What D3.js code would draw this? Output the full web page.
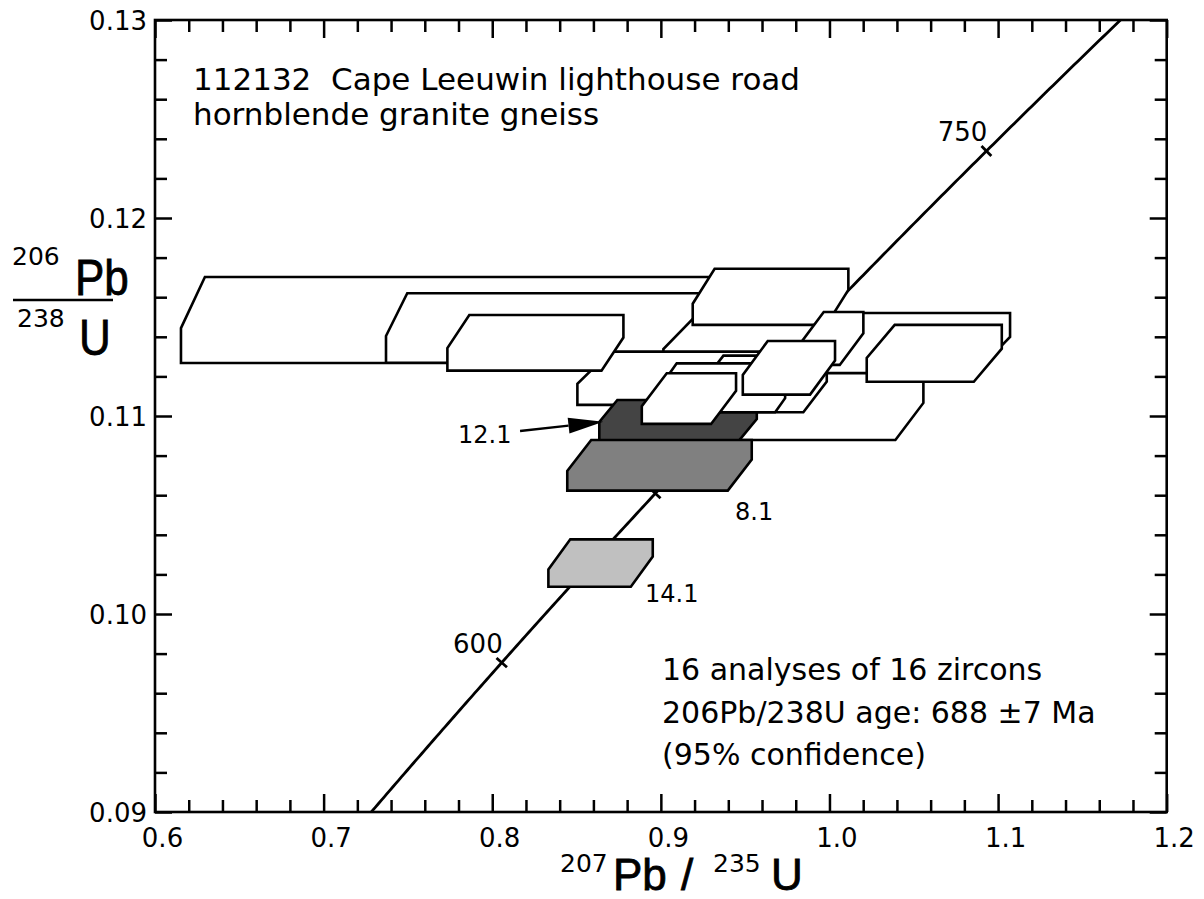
<!DOCTYPE html>
<html>
<head>
<meta charset="utf-8">
<script src="https://cdn.jsdelivr.net/npm/d3@7"></script>
<style>
  html, body { margin: 0; padding: 0; background: #fff; }
  svg { display: block; }
  text { font-family: "DejaVu Sans", sans-serif; fill: #000; white-space: pre; }
  .big { font-family: "Liberation Sans", Arial, sans-serif; }
</style>
</head>
<body>
<svg id="chart" width="1204" height="899"></svg>
<script>
// ---- axis ticks ----
const xMajorTicks = [0.6, 0.7, 0.8, 0.9, 1.0, 1.1, 1.2];
const yMajorTicks = [0.09, 0.10, 0.11, 0.12, 0.13];

// ---- concordia age marks (Ma) ----
const concordiaAges = [600, 650, 700, 750];

// ---- zircon analyses: 2-sigma error boxes, back to front ----
const spotLabels = ["", "", "", "", "", "", "", "", "", "12.1", "", "", "", "", "8.1", "14.1"];
// 207Pb/235U range
const spotX0 = [0.6154, 0.7370, 0.9015, 0.9189, 0.9826, 0.9232, 1.0221, 0.8505, 0.7734, 0.8635, 0.9232, 0.9035, 0.8887, 0.9486, 0.8445, 0.8333];
const spotX1 = [0.9826, 0.9766, 1.1071, 1.0112, 1.0201, 1.0557, 1.1022, 0.9648, 0.8778, 0.9569, 0.9984, 0.9737, 0.9446, 1.0033, 0.9539, 0.8952];
// 206Pb/238U range
const spotY0 = [0.11268, 0.11269, 0.11217, 0.11460, 0.11258, 0.10879, 0.11173, 0.11056, 0.11229, 0.10874, 0.11019, 0.11019, 0.10960, 0.11108, 0.10623, 0.10138];
const spotY1 = [0.11702, 0.11620, 0.11520, 0.11744, 0.11525, 0.11216, 0.11460, 0.11325, 0.11510, 0.11081, 0.11305, 0.11266, 0.11216, 0.11379, 0.10879, 0.10377];
// corner bevel from error correlation (x and y extents)
const spotCutX = [0.0142, 0.0126, 0.0208, 0.0130, 0.0140, 0.0166, 0.0166, 0.0196, 0.0130, 0.0107, 0.0139, 0.0059, 0.0148, 0.0148, 0.0142, 0.0130];
const spotCutY = [0.00258, 0.00216, 0.00182, 0.00177, 0.00160, 0.00187, 0.00167, 0.00162, 0.00167, 0.00111, 0.00155, 0.00071, 0.00167, 0.00172, 0.00157, 0.00152];

// label anchors for the named spots
const labelNames = ["12.1", "8.1", "14.1"];
const labelX = [0.7797, 0.9440, 0.8906];
const labelY = [0.10864, 0.10475, 0.10061];
// pointer from "12.1" to its box
const arrowFrom = [0.8165, 0.10924];
const arrowTo = [0.8659, 0.10971];

const titleLines = ["112132  Cape Leeuwin lighthouse road", "hornblende granite gneiss"];
const resultLines = ["16 analyses of 16 zircons", "206Pb/238U age: 688 \u00B17 Ma", "(95% confidence)"];

// decay constants (per year)
const L238 = 1.55125e-10, L235 = 9.8485e-10;

// ---- layout ----
const W = 1204, H = 899;
const margin = { top: 20, right: 37.3, bottom: 87, left: 155 };
const svg = d3.select("#chart");

const x = d3.scaleLinear().domain([0.6, 1.2]).range([margin.left, W - margin.right]);
const y = d3.scaleLinear().domain([0.09, 0.13]).range([H - margin.bottom, margin.top]);
const plotL = x.range()[0], plotR = x.range()[1], plotT = y.range()[1], plotB = y.range()[0];

const fillFor = { "12.1": "#444444", "8.1": "#808080", "14.1": "#c0c0c0" };

const xMinor = d3.range(0.62, 1.2, 0.02).filter(v => Math.abs(v * 10 - Math.round(v * 10)) > 1e-6);
const yMinor = d3.range(0.092, 0.13, 0.002).filter(v => Math.abs(v * 100 - Math.round(v * 100)) > 1e-6);

function styleAxis(g) {
  g.select(".domain").remove();
  g.selectAll(".tick line").attr("stroke", "#000").attr("stroke-width", 2.5);
}

// bottom
svg.append("g").attr("transform", `translate(0,${plotB})`)
  .call(d3.axisBottom(x).tickValues(xMinor).tickSize(-12).tickSizeOuter(0).tickFormat(""))
  .call(styleAxis);
const gxb = svg.append("g").attr("transform", `translate(0,${plotB})`)
  .call(d3.axisBottom(x).tickValues(xMajorTicks).tickSize(-18).tickSizeOuter(0).tickFormat(d3.format(".1f")))
  .call(styleAxis);
gxb.selectAll("text").attr("y", 35).attr("dy", null).attr("x", 7)
  .style("font-family", '"DejaVu Sans", sans-serif').style("font-size", "26px").attr("fill", "#000");

// top
svg.append("g").attr("transform", `translate(0,${plotT})`)
  .call(d3.axisTop(x).tickValues(xMinor).tickSize(-12).tickSizeOuter(0).tickFormat(""))
  .call(styleAxis);
svg.append("g").attr("transform", `translate(0,${plotT})`)
  .call(d3.axisTop(x).tickValues(xMajorTicks).tickSize(-18).tickSizeOuter(0).tickFormat(""))
  .call(styleAxis);

// left
svg.append("g").attr("transform", `translate(${plotL},0)`)
  .call(d3.axisLeft(y).tickValues(yMinor).tickSize(-12).tickSizeOuter(0).tickFormat(""))
  .call(styleAxis);
const gyl = svg.append("g").attr("transform", `translate(${plotL},0)`)
  .call(d3.axisLeft(y).tickValues(yMajorTicks).tickSize(-17).tickSizeOuter(0).tickPadding(8).tickFormat(d3.format(".2f")))
  .call(styleAxis);
gyl.selectAll("text").attr("dy", "0.36em")
  .style("font-family", '"DejaVu Sans", sans-serif').style("font-size", "26px").attr("fill", "#000");

// right
svg.append("g").attr("transform", `translate(${plotR},0)`)
  .call(d3.axisRight(y).tickValues(yMinor).tickSize(-12).tickSizeOuter(0).tickFormat(""))
  .call(styleAxis);
svg.append("g").attr("transform", `translate(${plotR},0)`)
  .call(d3.axisRight(y).tickValues(yMajorTicks).tickSize(-17).tickSizeOuter(0).tickFormat(""))
  .call(styleAxis);

// ---- concordia curve ----
svg.append("clipPath").attr("id", "plotClip")
  .append("rect").attr("x", plotL).attr("y", plotT).attr("width", plotR - plotL).attr("height", plotB - plotT);

const concX = t => Math.expm1(L235 * t * 1e6);
const concY = t => Math.expm1(L238 * t * 1e6);
const ages = d3.range(540, 800.1, 1);
const plot = svg.append("g").attr("clip-path", "url(#plotClip)");
plot.append("path")
  .attr("d", d3.line().x(t => x(concX(t))).y(t => y(concY(t)))(ages))
  .attr("fill", "none").attr("stroke", "#000").attr("stroke-width", 2.8);

concordiaAges.forEach(t => {
  const px = x(concX(t)), py = y(concY(t));
  const px2 = x(concX(t + 1)), py2 = y(concY(t + 1));
  const dx = px2 - px, dy = py2 - py, len = Math.hypot(dx, dy);
  const nx = -dy / len, ny = dx / len, h = 7;
  plot.append("line")
    .attr("x1", px - nx * h).attr("y1", py - ny * h)
    .attr("x2", px + nx * h).attr("y2", py + ny * h)
    .attr("stroke", "#000").attr("stroke-width", 2.8);
  plot.append("text").attr("x", px + 1).attr("y", py - 10)
    .attr("text-anchor", "end").style("font-size", "26px").text(t);
});

// ---- error boxes ----
const spots = spotLabels.map((label, i) => ({
  label, x0: spotX0[i], x1: spotX1[i], y0: spotY0[i], y1: spotY1[i], cx: spotCutX[i], cy: spotCutY[i]
}));
svg.append("g").selectAll("path").data(spots).join("path")
  .attr("d", s => d3.line()([
    [s.x0, s.y0], [s.x0, s.y1 - s.cy], [s.x0 + s.cx, s.y1],
    [s.x1, s.y1], [s.x1, s.y0 + s.cy], [s.x1 - s.cx, s.y0]
  ].map(p => [x(p[0]), y(p[1])])) + "Z")
  .attr("fill", s => fillFor[s.label] || "#fff")
  .attr("stroke", "#000").attr("stroke-width", 2.6).attr("stroke-linejoin", "miter");

// spot labels
labelNames.forEach((n, i) => {
  svg.append("text").attr("x", x(labelX[i])).attr("y", y(labelY[i]))
    .style("font-size", "24px").text(n);
});

// arrow to 12.1
{
  const ax0 = x(arrowFrom[0]), ay0 = y(arrowFrom[1]);
  const ax1 = x(arrowTo[0]), ay1 = y(arrowTo[1]);
  const dx = ax1 - ax0, dy = ay1 - ay0, len = Math.hypot(dx, dy);
  const ux = dx / len, uy = dy / len, headL = 35, headW = 8;
  const bx = ax1 - ux * headL, by = ay1 - uy * headL;
  svg.append("line").attr("x1", ax0).attr("y1", ay0).attr("x2", bx).attr("y2", by)
    .attr("stroke", "#000").attr("stroke-width", 2.5);
  svg.append("path")
    .attr("d", d3.line()([[ax1, ay1], [bx - uy * headW, by + ux * headW], [bx + uy * headW, by - ux * headW]]) + "Z")
    .attr("fill", "#000");
}

// ---- frame ----
svg.append("rect").attr("x", plotL).attr("y", plotT).attr("width", plotR - plotL).attr("height", plotB - plotT)
  .attr("fill", "none").attr("stroke", "#000").attr("stroke-width", 2.6);

// ---- annotations ----
titleLines.forEach((s, i) => {
  svg.append("text").attr("x", 193).attr("y", 90 + i * 35)
    .attr("xml:space", "preserve").style("font-size", "31px").text(s);
});
resultLines.forEach((s, i) => {
  svg.append("text").attr("x", 662).attr("y", 680 + i * 42.5).style("font-size", "30px").text(s);
});

// ---- axis titles ----
function bigText(tx, ty, s, size, sx) {
  svg.append("text").attr("class", "big")
    .attr("transform", `translate(${tx},${ty}) scale(${sx || 0.88},1)`)
    .style("font-size", (size || 50) + "px").style("stroke", "#000").style("stroke-width", "0.8px").text(s);
}
function supText(tx, ty, s) {
  svg.append("text").attr("x", tx).attr("y", ty).style("font-size", "25px").text(s);
}
// y: 206Pb over 238U
supText(12, 265, "206");
bigText(75, 295, "Pb");
svg.append("line").attr("x1", 13).attr("x2", 113).attr("y1", 300).attr("y2", 300)
  .attr("stroke", "#000").attr("stroke-width", 2.3);
supText(17, 327, "238");
bigText(79, 355, "U");
// x: 207Pb/ 235U
supText(560, 872, "207");
bigText(613, 889.5, "Pb", 44, 1);
bigText(681, 889.5, "/", 44, 1);
supText(713, 872, "235");
bigText(771, 889.5, "U", 44, 1);
</script>
</body>
</html>
